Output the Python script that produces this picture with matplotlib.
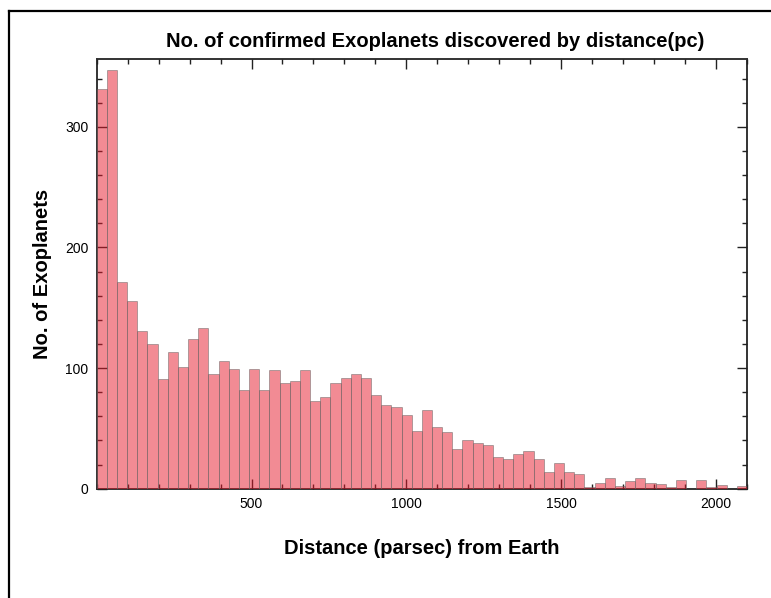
import numpy as np
import matplotlib.pyplot as plt
from matplotlib.lines import Line2D
from matplotlib.ticker import MultipleLocator

# Histograma das distancias dos exoplanetas (contagens)
dist_min = 0
dist_max = 2100
n_bins = 64
counts = [331, 347, 171, 156, 131, 120, 91, 113, 101, 124,
          133, 95, 106, 99, 82, 99, 82, 98, 88, 89,
          98, 73, 76, 88, 92, 95, 92, 78, 69, 68,
          61, 48, 65, 51, 47, 33, 40, 38, 36, 26,
          25, 29, 31, 25, 14, 21, 14, 12, 1, 5,
          9, 2, 6, 9, 5, 4, 1, 7, 0, 7,
          1, 3, 0, 2]
x_ticks = [500, 1000, 1500, 2000]
y_ticks = [0, 100, 200, 300]

plt.rcParams['font.family'] = ['Liberation Sans', 'DejaVu Sans']

fig = plt.figure(figsize=(7.71, 5.98), dpi=100)
ax = fig.add_axes([0.1254, 0.1828, 0.8435, 0.718])

edges = np.linspace(dist_min, dist_max, n_bins + 1)
centers = (edges[:-1] + edges[1:]) / 2
ax.hist(centers, bins=edges, weights=counts,
        facecolor='#e6192b', edgecolor='#666666', linewidth=0.7,
        alpha=0.5, zorder=1)

ax.set_xlim(dist_min, dist_max)
ax.set_ylim(0, 356)

# ticks por dentro, nos quatro lados, ficando atras das barras
ax.set_axisbelow(True)
ax.set_xticks(x_ticks)
ax.set_yticks(y_ticks)
ax.xaxis.set_minor_locator(MultipleLocator(100))
ax.yaxis.set_minor_locator(MultipleLocator(20))
ax.tick_params(which='both', direction='in', top=True, right=True,
               color='#222222', width=1, labelsize=10, labelcolor='black')
ax.tick_params(which='major', length=7.5, pad=6)
ax.tick_params(which='minor', length=3.8)
for s in ax.spines.values():
    s.set_linewidth(1.4)
    s.set_color('#333333')
    s.set_zorder(0.5)

ax.set_title('No. of confirmed Exoplanets discovered by distance(pc)',
             fontsize=14.5, fontweight='bold', pad=9, x=0.52)
ax.set_xlabel('Distance (parsec) from Earth', fontsize=14.5,
              fontweight='bold', labelpad=20)
ax.set_ylabel('No. of Exoplanets', fontsize=14.5, fontweight='bold',
              labelpad=9)

# moldura da figura (so esquerda e topo aparecem)
fig.add_artist(Line2D([0.0123, 0.0123], [0, 0.9816], color='black',
                      linewidth=1.6, transform=fig.transFigure))
fig.add_artist(Line2D([0.0123, 1.0], [0.9816, 0.9816], color='black',
                      linewidth=1.6, transform=fig.transFigure))

plt.savefig('out.png', dpi=100)
